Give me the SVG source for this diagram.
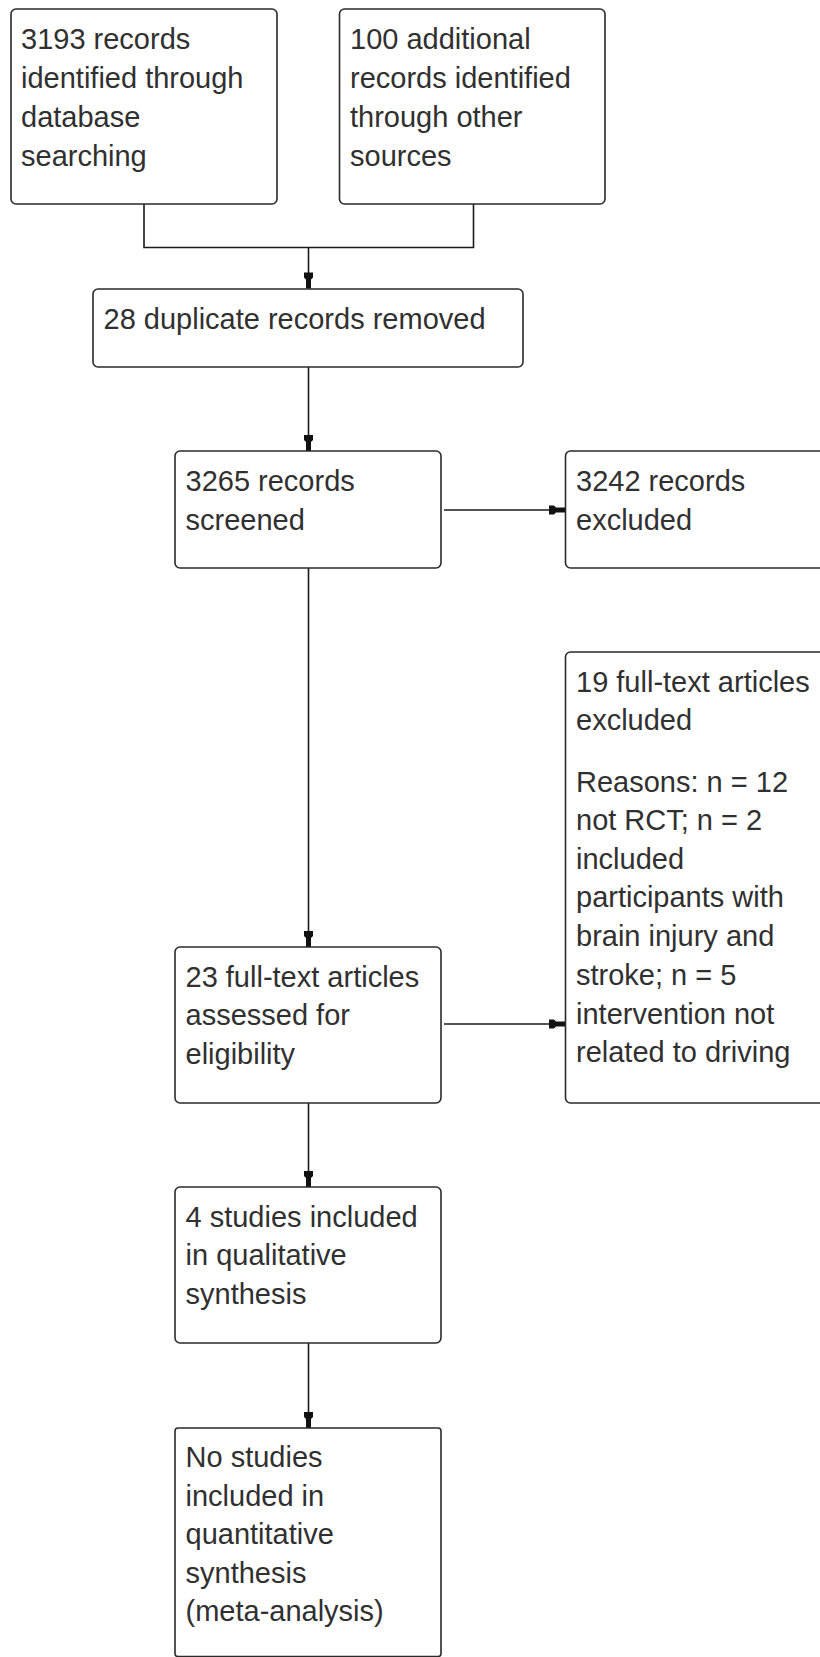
<svg xmlns="http://www.w3.org/2000/svg" width="820" height="1657" viewBox="0 0 820 1657">
<style>
.box{fill:#ffffff;stroke:#2a2a2a;stroke-width:1.6}
.t{font-family:"Liberation Sans",Arial,sans-serif;font-size:29px;fill:#303030}
.c{fill:none;stroke:#1a1a1a;stroke-width:1.6}
</style>
<defs>
<marker id="ah" markerUnits="userSpaceOnUse" markerWidth="20" markerHeight="12" viewBox="-17 -6 18 12" refX="0" refY="0" orient="auto">
<path d="M-16,-4.5 L-11,-4.5 L-9,-2.5 L0,-2.5 L0,2.5 L-9,2.5 L-11,4.5 L-16,4.5 Z" fill="#111"/>
</marker>
</defs>
<rect width="820" height="1657" fill="#ffffff"/>
<g id="connectors">
<path class="c" d="M144,204 V247.5 H473.5 V204"/>
<path class="c" d="M308.5,247.5 V288.5" marker-end="url(#ah)"/>
<path class="c" d="M308.5,367 V451" marker-end="url(#ah)"/>
<path class="c" d="M444,510 H565" marker-end="url(#ah)"/>
<path class="c" d="M308.5,568 V947" marker-end="url(#ah)"/>
<path class="c" d="M444,1024 H565" marker-end="url(#ah)"/>
<path class="c" d="M308.5,1103 V1187" marker-end="url(#ah)"/>
<path class="c" d="M308.5,1343 V1428" marker-end="url(#ah)"/>
</g>
<g id="n1">
<rect class="box" x="11" y="9" width="266" height="195" rx="5"/>
<text class="t" x="21" y="49.3">3193 records</text>
<text class="t" x="21" y="88.3">identified through</text>
<text class="t" x="21" y="127.3">database</text>
<text class="t" x="21" y="166">searching</text>
</g>
<g id="n2">
<rect class="box" x="339.5" y="9" width="265.5" height="195" rx="5"/>
<text class="t" x="350" y="49.3">100 additional</text>
<text class="t" x="350" y="88.3">records identified</text>
<text class="t" x="350" y="127.3">through other</text>
<text class="t" x="350" y="166">sources</text>
</g>
<g id="n3">
<rect class="box" x="93" y="289" width="430" height="78" rx="5"/>
<text class="t" x="103.5" y="328.5">28 duplicate records removed</text>
</g>
<g id="n4">
<rect class="box" x="175" y="451" width="266" height="117" rx="5"/>
<text class="t" x="185.5" y="491">3265 records</text>
<text class="t" x="185.5" y="529.5">screened</text>
</g>
<g id="n5">
<rect class="box" x="565.5" y="451" width="300" height="117" rx="5"/>
<text class="t" x="576" y="491">3242 records</text>
<text class="t" x="576" y="529.5">excluded</text>
</g>
<g id="n6">
<rect class="box" x="565.5" y="652" width="300" height="451" rx="5"/>
<text class="t" x="576" y="691.7">19 full-text articles</text>
<text class="t" x="576" y="730.3">excluded</text>
<text class="t" x="576" y="791.7">Reasons: n = 12</text>
<text class="t" x="576" y="830.3">not RCT; n = 2</text>
<text class="t" x="576" y="868.8">included</text>
<text class="t" x="576" y="907.3">participants with</text>
<text class="t" x="576" y="946.3">brain injury and</text>
<text class="t" x="576" y="985">stroke; n = 5</text>
<text class="t" x="576" y="1023.5">intervention not</text>
<text class="t" x="576" y="1062">related to driving</text>
</g>
<g id="n7">
<rect class="box" x="175" y="947" width="266" height="156" rx="5"/>
<text class="t" x="185.5" y="986.7">23 full-text articles</text>
<text class="t" x="185.5" y="1025.3">assessed for</text>
<text class="t" x="185.5" y="1064">eligibility</text>
</g>
<g id="n8">
<rect class="box" x="175" y="1187" width="266" height="156" rx="5"/>
<text class="t" x="185.5" y="1226.7">4 studies included</text>
<text class="t" x="185.5" y="1265.3">in qualitative</text>
<text class="t" x="185.5" y="1304">synthesis</text>
</g>
<g id="n9">
<rect class="box" x="175" y="1428" width="266" height="228.5" rx="3"/>
<text class="t" x="185.5" y="1467">No studies</text>
<text class="t" x="185.5" y="1505.5">included in</text>
<text class="t" x="185.5" y="1544">quantitative</text>
<text class="t" x="185.5" y="1582.5">synthesis</text>
<text class="t" x="185.5" y="1621">(meta-analysis)</text>
</g>
</svg>
